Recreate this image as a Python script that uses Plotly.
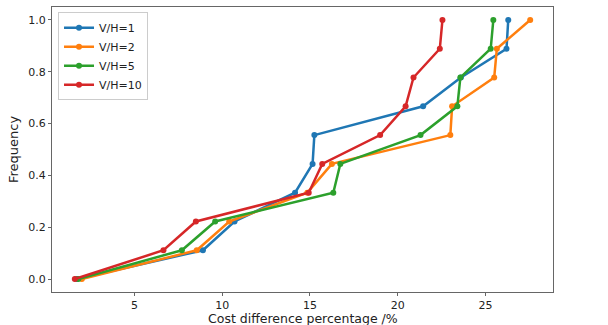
import plotly.graph_objects as go

freq = [0, 1/9, 2/9, 3/9, 4/9, 5/9, 6/9, 7/9, 8/9, 1.0]
vh1 = [1.7, 8.9, 10.7, 14.15, 15.15, 15.25, 21.45, 23.6, 26.2, 26.3]
vh2 = [2.0, 8.55, 10.4, 14.85, 16.25, 23.0, 23.1, 25.5, 25.65, 27.55]
vh5 = [1.8, 7.7, 9.6, 16.33, 16.73, 21.3, 23.4, 23.57, 25.3, 25.45]
vh10 = [1.6, 6.65, 8.5, 14.93, 15.7, 19.0, 20.45, 20.9, 22.4, 22.55]

names = ["V/H=1", "V/H=2", "V/H=5", "V/H=10"]
series = [vh1, vh2, vh5, vh10]
colors = ["#1f77b4", "#ff7f0e", "#2ca02c", "#d62728"]

fig = go.Figure()
for n, s, c in zip(names, series, colors):
    fig.add_trace(go.Scatter(x=s, y=freq, mode="lines+markers", name=n,
                             line=dict(color=c, width=2.5),
                             marker=dict(color=c, size=6)))

axis_common = dict(showgrid=False, zeroline=False, showline=True, mirror=True,
                   linecolor="#666", linewidth=1, ticks="outside", ticklen=3,
                   tickcolor="#666", tickfont=dict(size=11, color="#222"),
                   automargin=False)

fig.update_layout(
    width=608, height=325,
    margin=dict(l=52, r=55, t=7, b=33),
    paper_bgcolor="white", plot_bgcolor="white",
    font=dict(family="DejaVu Sans", color="#222"),
    xaxis=dict(range=[0.3, 28.85], tickvals=[5, 10, 15, 20, 25], **axis_common),
    yaxis=dict(range=[-0.05, 1.05], tickvals=[0, 0.2, 0.4, 0.6, 0.8, 1.0],
               tickformat=".1f",
               title=dict(text="Frequency", font=dict(size=13), standoff=6),
               **axis_common),
    legend=dict(x=0.012, y=0.982, xanchor="left", yanchor="top",
                bgcolor="rgba(255,255,255,0.9)", bordercolor="#ccc", borderwidth=1,
                font=dict(size=11), tracegroupgap=0, itemwidth=30),
    showlegend=True,
    annotations=[dict(text="Cost difference percentage /%", xref="paper", yref="paper",
                      x=0.5, y=-26/285, xanchor="center", yanchor="middle",
                      borderpad=0, showarrow=False, font=dict(size=12.5, color="#222"))],
)

fig.write_html("out.html")
